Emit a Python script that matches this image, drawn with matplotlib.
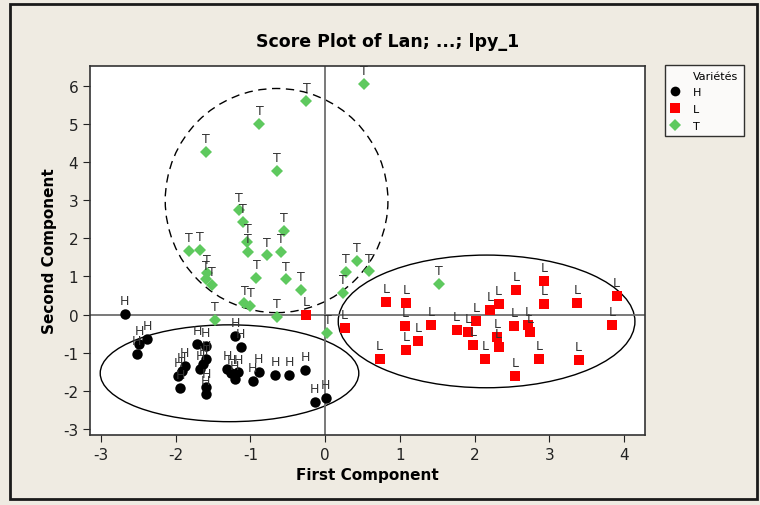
import matplotlib
matplotlib.use("Agg")
import matplotlib.pyplot as plt
from matplotlib.patches import Ellipse, Rectangle
from matplotlib.lines import Line2D

plt.rcParams['axes.unicode_minus'] = False

# scores (first component, second component)
h_x = [-2.68, -2.49, -2.38, -2.52, -1.94, -1.97, -1.92, -1.88, -1.71, -1.60,
       -1.59, -1.63, -1.67, -1.59, -1.60, -1.20, -1.13, -1.31, -1.26, -1.21,
       -1.16, -0.97, -0.89, -0.67, -0.48, -0.27, -0.14, 0.01]
h_y = [0.01, -0.76, -0.65, -1.04, -1.93, -1.61, -1.49, -1.34, -0.76, -0.83,
       -1.17, -1.30, -1.43, -1.89, -2.09, -0.56, -0.86, -1.43, -1.54, -1.69,
       -1.52, -1.74, -1.50, -1.58, -1.58, -1.45, -2.29, -2.20]

l_x = [-0.25, 0.26, 0.82, 1.08, 1.07, 1.08, 0.73, 1.24, 1.42, 1.76,
       1.91, 2.02, 1.98, 2.14, 2.21, 2.32, 2.30, 2.32, 2.56, 2.53,
       2.54, 2.72, 2.74, 2.86, 2.93, 2.93, 3.37, 3.39, 3.90, 3.84]
l_y = [0.00, -0.35, 0.34, 0.30, -0.31, -0.93, -1.17, -0.69, -0.28, -0.41,
       -0.45, -0.17, -0.79, -1.17, 0.13, 0.27, -0.58, -0.86, 0.64, -0.31,
       -1.61, -0.28, -0.45, -1.17, 0.88, 0.27, 0.30, -1.20, 0.48, -0.28]

t_x = [0.52, -0.25, -0.88, -1.59, -0.64, -1.15, -1.10, -0.55, -1.04, -1.82,
       -1.68, -1.03, -0.78, -0.59, -1.58, -1.60, -1.52, -0.92, -0.52, -0.32,
       -1.08, -1.00, -1.47, -0.64, 0.24, 0.28, 0.43, 0.59, 0.03, 1.52]
t_y = [6.05, 5.61, 4.99, 4.27, 3.76, 2.73, 2.42, 2.19, 1.91, 1.67,
       1.70, 1.64, 1.55, 1.65, 1.08, 0.93, 0.78, 0.96, 0.92, 0.64,
       0.29, 0.22, -0.14, -0.07, 0.56, 1.11, 1.40, 1.13, -0.49, 0.80]

x_ticks = [-3, -2, -1, 0, 1, 2, 3, 4]
y_ticks = [-3, -2, -1, 0, 1, 2, 3, 4, 5, 6]

bg = '#EFEBE2'
green = '#5EC95E'

fig = plt.figure(figsize=(7.6, 5.06), dpi=100, facecolor=bg)
ax = fig.add_axes([0.1184, 0.1383, 0.7303, 0.7293])
ax.set_facecolor('white')

# outer border of the graph window
fig.patches.append(Rectangle((0.013, 0.012), 0.983, 0.978, transform=fig.transFigure,
                             fill=False, edgecolor='#1a1a1a', linewidth=2))

# group ellipses
ax.add_patch(Ellipse((-0.65, 2.99), 2.98, 5.88, fill=False, linestyle=(0, (6, 4)),
                     edgecolor='black', linewidth=1))
ax.add_patch(Ellipse((-1.28, -1.54), 3.46, 2.54, fill=False, edgecolor='black', linewidth=1))
ax.add_patch(Ellipse((2.16, -0.18), 3.97, 3.48, fill=False, edgecolor='black', linewidth=1))

# reference lines
ax.axhline(0, color='#6e6e6e', linewidth=1.3, zorder=1)
ax.axvline(0, color='#6e6e6e', linewidth=1.3, zorder=1)

groups = [
    ('H', h_x, h_y, 'o', 'black', 7.5),
    ('L', l_x, l_y, 's', '#FF0000', 7),
    ('T', t_x, t_y, 'D', green, 6.5),
]
for name, xs, ys, mk, col, ms in groups:
    ax.plot(xs, ys, linestyle='none', marker=mk, color=col, markersize=ms,
            markeredgewidth=0, zorder=3)
    for x, y in zip(xs, ys):
        ax.annotate(name, (x, y), xytext=(0, 5), textcoords='offset points',
                    ha='center', va='bottom', fontsize=9, color='#333333', zorder=4)

ax.set_xlim(-3.147, 4.28)
ax.set_ylim(-3.16, 6.52)
ax.set_xticks(x_ticks)
ax.set_yticks(y_ticks)
ax.tick_params(direction='out', length=5, labelsize=11, colors='#222222')
for s in ax.spines.values():
    s.set_color('#333333')
    s.set_linewidth(1.2)

ax.set_xlabel('First Component', fontsize=11, fontweight='bold', labelpad=4)
ax.set_ylabel('Second Component', fontsize=11, fontweight='bold', labelpad=4)
fig.text(0.51, 0.917, 'Score Plot of Lan; ...; lpy_1', ha='center', va='center',
         fontsize=12.5, fontweight='bold')

# legend with the group title as a first, marker-less row
handles = [Line2D([], [], linestyle='none', marker=None)]
labels = ['Variétés']
for name, xs, ys, mk, col, ms in groups:
    handles.append(Line2D([], [], linestyle='none', marker=mk, color=col,
                          markersize=ms - 0.5, markeredgewidth=0))
    labels.append(name)
leg = fig.legend(handles, labels, loc='upper left', bbox_to_anchor=(0.875, 0.8696),
                 borderaxespad=0, frameon=True, fancybox=False, fontsize=8,
                 handlelength=0.8, handletextpad=1.2, borderpad=0.5,
                 labelspacing=0.6)
leg.get_frame().set_edgecolor('black')
leg.get_frame().set_linewidth(1)

fig.savefig('out.png', dpi=100, facecolor=bg)
